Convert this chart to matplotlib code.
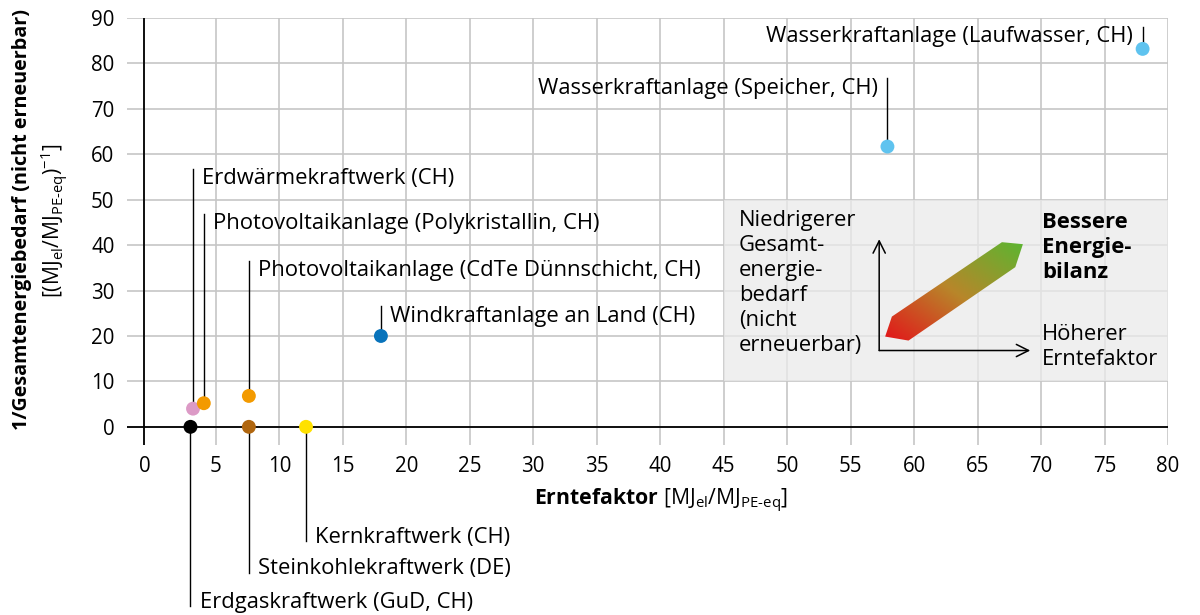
import numpy as np
import matplotlib
matplotlib.use("Agg")
import matplotlib.pyplot as plt
from matplotlib.patches import Polygon, Rectangle
from matplotlib.colors import LinearSegmentedColormap

plt.rcParams['font.family'] = ['Open Sans', 'DejaVu Sans']
plt.rcParams['mathtext.fontset'] = 'custom'
plt.rcParams['mathtext.rm'] = 'Open Sans'
plt.rcParams['mathtext.bf'] = 'Open Sans:bold'
plt.rcParams['mathtext.it'] = 'Open Sans:italic'

# data
names = [
    'Erdgaskraftwerk (GuD, CH)',
    'Erdwärmekraftwerk (CH)',
    'Photovoltaikanlage (Polykristallin, CH)',
    'Photovoltaikanlage (CdTe Dünnschicht, CH)',
    'Steinkohlekraftwerk (DE)',
    'Kernkraftwerk (CH)',
    'Windkraftanlage an Land (CH)',
    'Wasserkraftanlage (Speicher, CH)',
    'Wasserkraftanlage (Laufwasser, CH)',
]
erntefaktor = [3.0, 3.2, 4.05, 7.6, 7.6, 12.1, 18.0, 57.9, 78.0]
inv_energie = [0.0, 4.0, 5.2, 6.8, 0.0, 0.0, 20.0, 61.7, 83.2]
colors = ['#000000', '#dc9ac6', '#f39a00', '#f39a00', '#b0660f',
          '#ffe100', '#0873bb', '#5fc3ef', '#5fc3ef']

# leader layout: line end (y), text side
line_end = [-39.5, 56.8, 46.9, 36.6, -32.2, -25.2, 26.5, 76.7, 88.1]
text_side = ['right', 'right', 'right', 'right', 'right', 'right', 'right', 'left', 'left']

x_ticks = [0, 5, 10, 15, 20, 25, 30, 35, 40, 45, 50, 55, 60, 65, 70, 75, 80]
y_ticks = [0, 10, 20, 30, 40, 50, 60, 70, 80, 90]

fs = 15.8
fs_tick = 14.8
fig = plt.figure(figsize=(12, 6.15), dpi=100)
ax = fig.add_axes([127 / 1200, 1 - 445 / 615, (1168 - 127) / 1200, (445 - 18) / 615])
ax.set_xlim(-2, 80)
ax.set_ylim(-4, 90)

# the y axis line sits a little left of zero in the original
axis_x = -0.63
xt = [axis_x] + x_ticks[1:]
ax.set_xticks(xt)
ax.set_xticklabels([str(v) for v in x_ticks])
ax.set_yticks(y_ticks)
ax.tick_params(length=0, labelsize=fs_tick, pad=8)
ax.tick_params(axis='y', pad=9)
ax.grid(True, color='#c6c6c6', lw=1.2, zorder=0)
ax.set_axisbelow(True)
for s in ax.spines.values():
    s.set_visible(False)
ax.axvline(axis_x, color='black', lw=1.3, zorder=2)
ax.axhline(0, color='black', lw=1.3, zorder=2)

# grey info box
ax.add_patch(Rectangle((45, 10), 35, 40, facecolor='#eaeaea', alpha=0.75,
                       edgecolor='none', zorder=1))

# leader lines and labels
for name, x, y, c, ye, side in zip(names, erntefaktor, inv_energie, colors, line_end, text_side):
    ax.plot([x, x], [y, ye], color='black', lw=1.0, zorder=3, clip_on=False)
    if side == 'right':
        ax.text(x + 0.74, ye - 0.3 if ye < 0 else ye - 3.4, name, fontsize=fs,
                ha='left', va='baseline', clip_on=False)
    else:
        ax.text(x - 0.74, ye - 3.4, name, fontsize=fs, ha='right', va='baseline')
ax.scatter(erntefaktor, inv_energie, s=100, c=colors, zorder=4, linewidths=0, clip_on=False)

# inset text
ax.text(46.2, 47.8, 'Niedrigerer\nGesamt-\nenergie-\nbedarf\n(nicht\nerneuerbar)',
        fontsize=fs, ha='left', va='top', linespacing=1.25, zorder=5)
ax.text(70.1, 47.3, 'Bessere\nEnergie-\nbilanz', fontsize=fs, fontweight='bold',
        ha='left', va='top', linespacing=1.25, zorder=5)
ax.text(70.1, 22.6, 'Höherer\nErntefaktor', fontsize=fs, ha='left', va='top',
        linespacing=1.25, zorder=5)

# small axes with open arrowheads
ax.annotate('', xy=(57.25, 41.3), xytext=(57.25, 16.8),
            arrowprops=dict(arrowstyle='->', lw=1.1, color='black', mutation_scale=22,
                            shrinkA=0, shrinkB=0), zorder=5)
ax.annotate('', xy=(69.15, 16.8), xytext=(57.25, 16.8),
            arrowprops=dict(arrowstyle='->', lw=1.1, color='black', mutation_scale=22,
                            shrinkA=0, shrinkB=0), zorder=5)

# gradient arrow shape
poly_pts = np.array([[58.25, 24.27], [57.72, 19.87], [59.56, 18.99],
                     [67.97, 35.15], [68.57, 40.21], [66.92, 40.65]])
poly = Polygon(poly_pts, closed=True, facecolor='none', edgecolor='none', zorder=5)
ax.add_patch(poly)
x0, x1 = poly_pts[:, 0].min(), poly_pts[:, 0].max()
y0, y1 = poly_pts[:, 1].min(), poly_pts[:, 1].max()
u, v = np.meshgrid(np.linspace(0, 1, 200), np.linspace(0, 1, 200))
grad = (u + v) / 2
cmap = LinearSegmentedColormap.from_list('rg', ['#e3151a', '#b8862a', '#5cb531'])
im = ax.imshow(grad, extent=(x0, x1, y0, y1), origin='lower', cmap=cmap,
               aspect='auto', zorder=5)
im.set_clip_path(poly)
ax.set_xlim(-2, 80)
ax.set_ylim(-4, 90)

# axis labels
fig.text(661 / 1200, 1 - 505 / 615,
         r'$\mathbf{Erntefaktor}$ [MJ$_{\mathrm{el}}$/MJ$_{\mathrm{PE‐eq}}$]',
         fontsize=15.3, ha='center', va='baseline')
fig.text(22 / 1200, 1 - 219 / 615, '1/Gesamtenergiebedarf (nicht erneuerbar)',
         fontsize=14.2, fontweight='bold', rotation=90, ha='center', va='center')
fig.text(54 / 1200, 1 - 221 / 615,
         r'[(MJ$_{\mathrm{el}}$/MJ$_{\mathrm{PE‐eq}}$)$^{\mathrm{-1}}$]',
         fontsize=15.2, rotation=90, ha='center', va='center')

fig.savefig('out.png', dpi=100)
